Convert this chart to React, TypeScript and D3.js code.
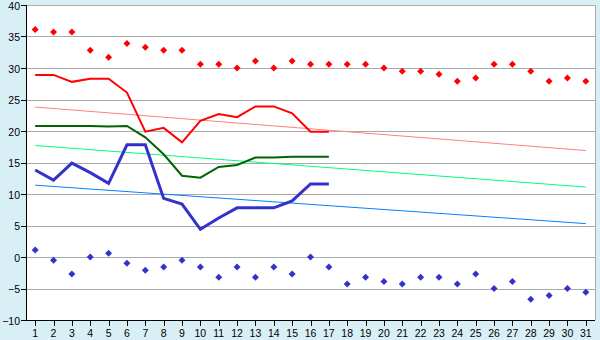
import React from "react";
import * as d3 from "d3";

const days = d3.range(1, 32).map(String);
const yTicks = [-10, -5, 0, 5, 10, 15, 20, 25, 30, 35, 40];

const maxPoints = [36.1, 35.7, 35.7, 32.8, 31.7, 33.9, 33.3, 32.8, 32.8, 30.6, 30.6, 30.0, 31.1, 30.0, 31.1, 30.6, 30.6, 30.6, 30.6, 30.0, 29.5, 29.5, 29.0, 27.9, 28.4, 30.6, 30.6, 29.5, 27.9, 28.4, 27.9];
const minPoints = [1.1, -0.5, -2.7, 0.0, 0.6, -1.0, -2.1, -1.6, -0.5, -1.6, -3.2, -1.6, -3.2, -1.6, -2.7, 0.0, -1.6, -4.3, -3.2, -3.9, -4.3, -3.2, -3.2, -4.3, -2.7, -5.0, -3.9, -6.7, -6.1, -5.0, -5.6];
const maxLine = [28.9, 28.9, 27.8, 28.3, 28.3, 26.1, 19.9, 20.5, 18.2, 21.6, 22.7, 22.2, 23.9, 23.9, 22.8, 19.9, 19.9];
const meanLine = [20.8, 20.8, 20.8, 20.8, 20.7, 20.8, 19.0, 16.3, 12.9, 12.6, 14.3, 14.6, 15.8, 15.8, 15.9, 15.9, 15.9];
const minLine = [13.8, 12.2, 14.9, 13.4, 11.7, 17.8, 17.8, 9.3, 8.4, 4.4, 6.2, 7.8, 7.8, 7.8, 8.9, 11.6, 11.6];
const maxTrend = [23.8, 16.9];
const meanTrend = [17.7, 11.1];
const minTrend = [11.4, 5.3];

const W = 600, H = 340;
const L = 26, R = 595, T = 5, B = 320;

export default function App() {
  const x = d3.scaleBand().domain(days).range([L, R]);
  const cx = (i: number) => (x(days[i]) as number) + x.bandwidth() / 2;
  const y = d3.scaleLinear().domain([-10, 40]).range([B, T]);

  const line = d3.line<number>().x((_, i) => cx(i)).y((d) => y(d));
  const trend = (t: number[]) =>
    d3.line<number>().x((_, i) => (i === 0 ? cx(0) : cx(30))).y((d) => y(d))(t) as string;

  const diamond = (px: number, py: number, color: string, key: string) => (
    <path key={key} d={`M${px},${py - 3.5}L${px + 3.5},${py}L${px},${py + 3.5}L${px - 3.5},${py}Z`} fill={color} />
  );

  return (
    <svg width={W} height={H} style={{ position: "absolute", left: 0, top: 0 }} fontFamily="Liberation Sans, Arial, sans-serif" fontSize={10.5}>
      <rect x={0} y={0} width={W} height={H} fill="#d9eff6" />
      <rect x={L} y={T} width={R - L} height={B - T} fill="#ffffff" />
      {yTicks.map((t) => (
        <g key={t}>
          <line x1={L} x2={R} y1={Math.round(y(t)) + 0.5} y2={Math.round(y(t)) + 0.5} stroke="#aaaaaa" strokeWidth={1} shapeRendering="crispEdges" />
          <line x1={L - 5} x2={L} y1={Math.round(y(t)) + 0.5} y2={Math.round(y(t)) + 0.5} stroke="#000" shapeRendering="crispEdges" />
          <text x={L - 6} y={Math.max(y(t) + 4.5, 10)} textAnchor="end" fill="#000">{t < 0 ? "\u2212" + Math.abs(t) : t}</text>
        </g>
      ))}
      <line x1={R + 0.5} x2={R + 0.5} y1={T} y2={B} stroke="#aaaaaa" shapeRendering="crispEdges" />
      <line x1={L + 0.5} x2={L + 0.5} y1={T} y2={B} stroke="#000" shapeRendering="crispEdges" />
      <line x1={L} x2={R} y1={B + 0.5} y2={B + 0.5} stroke="#000" shapeRendering="crispEdges" />
      {days.map((d, i) => (
        <g key={d}>
          <line x1={Math.round(cx(i)) + 0.5} x2={Math.round(cx(i)) + 0.5} y1={B} y2={B + 6} stroke="#000" shapeRendering="crispEdges" />
          <text x={cx(i)} y={B + 17} textAnchor="middle" fill="#000">{d}</text>
        </g>
      ))}
      <path d={trend(maxTrend)} fill="none" stroke="#ff8080" strokeWidth={1} />
      <path d={trend(meanTrend)} fill="none" stroke="#00ff80" strokeWidth={1} />
      <path d={trend(minTrend)} fill="none" stroke="#0080ff" strokeWidth={1} />
      <path d={line(maxLine) as string} fill="none" stroke="#ff0000" strokeWidth={2} />
      <path d={line(meanLine) as string} fill="none" stroke="#006400" strokeWidth={2} />
      <path d={line(minLine) as string} fill="none" stroke="#3333cc" strokeWidth={3} />
      {maxPoints.map((v, i) => diamond(cx(i), y(v), "#ff0000", "mx" + i))}
      {minPoints.map((v, i) => diamond(cx(i), y(v), "#3333cc", "mn" + i))}
    </svg>
  );
}
